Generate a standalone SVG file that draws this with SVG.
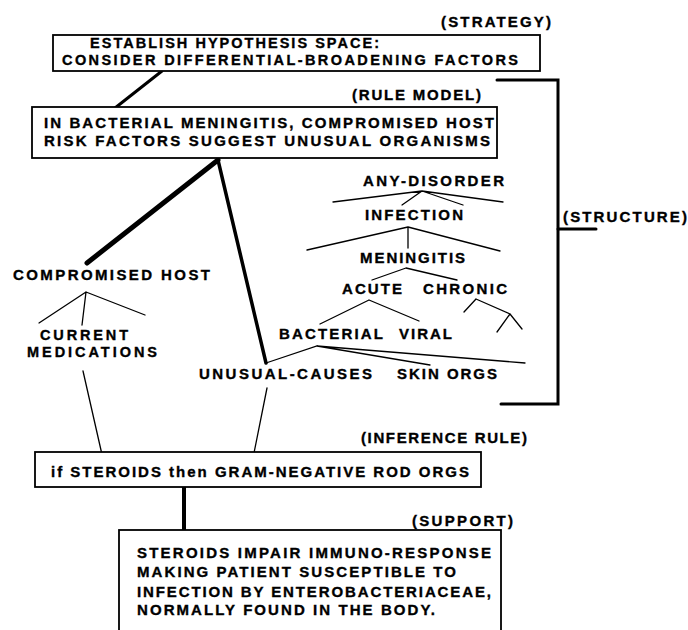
<svg xmlns="http://www.w3.org/2000/svg" width="688" height="630" viewBox="0 0 688 630">
<style>
text{font-family:"Liberation Sans",Arial,sans-serif;font-weight:bold;font-size:15px;fill:#000;stroke:#000;stroke-width:0.35}
.lbl{font-size:15px}
.sm{font-size:14.5px}
.box{fill:#fff;stroke:#000;stroke-width:1.8}
.ln{stroke:#000;stroke-width:1.3;fill:none;stroke-linecap:round}
.thk{stroke:#000;fill:none;stroke-linecap:round}
</style>
<rect width="688" height="630" fill="#fff"/>
<g id="connectors">
<line class="thk" x1="162" y1="71" x2="115" y2="108" stroke-width="3"/>
<line class="thk" x1="218" y1="160" x2="87" y2="263" stroke-width="5"/>
<line class="thk" x1="218" y1="160" x2="266" y2="363" stroke-width="3.5"/>
<line class="thk" x1="184" y1="487" x2="184" y2="531" stroke-width="4"/>
<polyline class="thk" points="497,80 558,80 558,404 501,404" stroke-width="3" stroke-linecap="butt"/>
<line class="thk" x1="558" y1="229" x2="596" y2="229" stroke-width="3" stroke-linecap="butt"/>
<line class="ln" x1="83" y1="371" x2="103" y2="459"/>
<line class="ln" x1="267" y1="388" x2="253" y2="458"/>
<path class="ln" d="M422,191 L333,202 M422,191 L503,202 M422,191 L402,205 M422,191 L463,205"/>
<path class="ln" d="M408,227 L307,250 M408,227 L500,251 M408,227 L408,248"/>
<path class="ln" d="M406,268 L372,280 M406,268 L457,280"/>
<path class="ln" d="M369,300 L320,324 M369,300 L419,321"/>
<path class="ln" d="M476,299 L464,312 M476,299 L510,314 L497,332 M510,314 L522,329"/>
<path class="ln" d="M266,363 L317,346 L430,365 M317,346 L525,363"/>
<path class="ln" d="M86,292 L39,323 M86,292 L82,325 M86,292 L145,315"/>
</g>
<g id="strategy-label"><text class="lbl" x="441" y="27" textLength="110">(STRATEGY)</text></g>
<g id="strategy">
<rect class="box" x="53" y="35" width="487" height="36"/>
<text class="sm" x="90" y="48" textLength="289">ESTABLISH HYPOTHESIS SPACE:</text>
<text class="sm" x="62" y="65" textLength="456">CONSIDER DIFFERENTIAL-BROADENING FACTORS</text>
</g>
<g id="rule-model-label"><text class="lbl" x="352" y="100" textLength="129">(RULE MODEL)</text></g>
<g id="rule-model">
<rect class="box" x="32" y="107" width="465" height="51"/>
<text x="44" y="128" textLength="450">IN BACTERIAL MENINGITIS, COMPROMISED HOST</text>
<text x="44" y="146" textLength="446">RISK FACTORS SUGGEST UNUSUAL ORGANISMS</text>
</g>
<g id="structure-label"><text class="lbl" x="563" y="222" textLength="124">(STRUCTURE)</text></g>
<g id="any-disorder"><text x="363" y="186" textLength="141">ANY-DISORDER</text></g>
<g id="infection"><text x="365" y="220" textLength="98">INFECTION</text></g>
<g id="meningitis"><text x="360" y="263" textLength="105">MENINGITIS</text></g>
<g id="acute"><text x="342" y="294" textLength="60">ACUTE</text></g>
<g id="chronic"><text x="423" y="294" textLength="84">CHRONIC</text></g>
<g id="bacterial"><text x="279" y="339" textLength="104">BACTERIAL</text></g>
<g id="viral"><text x="399" y="339" textLength="53">VIRAL</text></g>
<g id="unusual-causes"><text x="199" y="379" textLength="173">UNUSUAL-CAUSES</text></g>
<g id="skin-orgs"><text x="397" y="379" textLength="100">SKIN ORGS</text></g>
<g id="compromised-host"><text x="13" y="280" textLength="197">COMPROMISED HOST</text></g>
<g id="current-medications">
<text class="sm" x="40" y="340" textLength="88">CURRENT</text>
<text class="sm" x="27" y="357" textLength="130">MEDICATIONS</text>
</g>
<g id="inference-label"><text class="lbl" x="361" y="443" textLength="166">(INFERENCE RULE)</text></g>
<g id="inference-rule">
<rect class="box" x="35" y="452" width="446" height="35"/>
<text x="51" y="477" textLength="418">if STEROIDS then GRAM-NEGATIVE ROD ORGS</text>
</g>
<g id="support-label"><text class="lbl" x="412" y="526" textLength="101">(SUPPORT)</text></g>
<g id="support">
<rect class="box" x="119" y="530" width="382" height="120"/>
<text x="137" y="558" textLength="354">STEROIDS IMPAIR IMMUNO-RESPONSE</text>
<text x="137" y="577" textLength="319">MAKING PATIENT SUSCEPTIBLE TO</text>
<text x="137" y="597" textLength="354">INFECTION BY ENTEROBACTERIACEAE,</text>
<text x="137" y="615" textLength="298">NORMALLY FOUND IN THE BODY.</text>
</g>
</svg>
